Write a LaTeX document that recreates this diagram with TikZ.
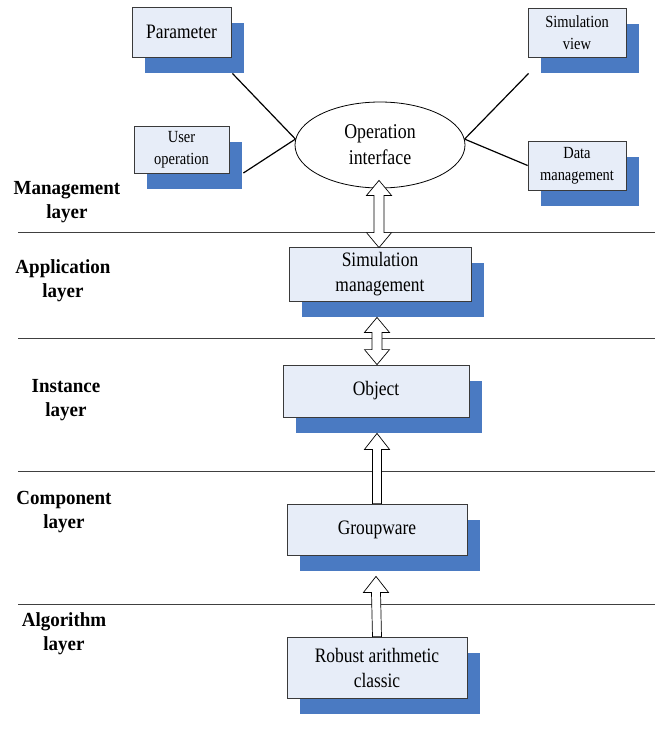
\documentclass[tikz,border=0pt]{standalone}
\usepackage{fontspec}
\setmainfont{Liberation Serif}[FakeStretch=0.85]
\newfontfamily\labelfont{Liberation Serif}[FakeStretch=0.95]
\usetikzlibrary{shapes.geometric,shadows,calc}

% hollow block arrows, drawn between two named points
\newcommand\fatup[2]{%
  \draw[fatarrow] ($(#1)+(-4.5,0)$) -- ($(#2)+(-4.5,16)$) -- ($(#2)+(-12.5,16)$) -- (#2)
    -- ($(#2)+(12.5,16)$) -- ($(#2)+(4.5,16)$) -- ($(#1)+(4.5,0)$) -- cycle;}
\newcommand\fatboth[2]{%
  \draw[fatarrow] (#1) -- ($(#1)+(12.5,15)$) -- ($(#1)+(5,15)$) -- ($(#2)+(5,-15)$)
    -- ($(#2)+(12.5,-15)$) -- (#2) -- ($(#2)+(-12.5,-15)$) -- ($(#2)+(-5,-15)$)
    -- ($(#1)+(-5,15)$) -- ($(#1)+(-12.5,15)$) -- cycle;}

\begin{document}
\begin{tikzpicture}[x=1pt,y=-1pt,
  box/.style={draw=boxline,fill=boxfill,line width=0.8pt,align=center,inner sep=0pt,
    general shadow={fill=shadowblue,shadow xshift=12.5pt,shadow yshift=-16pt}},
  bigbox/.style={box,font=\fontsize{20.5}{25}\selectfont},
  smallbox/.style={box,font=\fontsize{17}{22}\selectfont},
  layerlabel/.style={align=center,font=\labelfont\fontsize{20}{24}\selectfont\bfseries},
  link/.style={black,line width=1.2pt},
  fatarrow/.style={draw=black,fill=white,line width=0.7pt,line join=miter}]
\definecolor{boxline}{HTML}{3A3A3A}
\definecolor{boxfill}{HTML}{E7EDF8}
\definecolor{shadowblue}{HTML}{4A7AC2}
\definecolor{layerline}{HTML}{404040}
\useasboundingbox (0,0) rectangle (661,734);
% layer separators
\foreach \yy in {232,338,471,604}
  \draw[layerline,line width=0.9pt] (18,\yy) -- (655,\yy);
% layer names
\node[layerlabel] (lmanage) at (67,202) {Management\\layer};
\node[layerlabel] (lapp) at (63,281) {Application\\layer};
\node[layerlabel] (linst) at (66,400) {Instance\\layer};
\node[layerlabel] (lcomp) at (64,512.5) {Component\\layer};
\node[layerlabel] (lalgo) at (64,634) {Algorithm\\layer};
% operation interface and its satellites
\node[draw=black,fill=white,ellipse,line width=0.8pt,minimum width=170pt,minimum height=86pt,
  inner sep=0pt,align=center,font=\fontsize{21}{26}\selectfont] (opif) at (380,145)
  {Operation\\interface};
\node[bigbox,minimum width=99pt,minimum height=50pt] (param) at (181.5,32) {Parameter};
\node[smallbox,minimum width=95pt,minimum height=47pt] (uop) at (181.5,149.5) {User\\operation};
\node[smallbox,minimum width=98pt,minimum height=49pt] (simv) at (577,32.5) {Simulation\\view};
\node[smallbox,minimum width=98pt,minimum height=49pt] (dmg) at (577,165.5) {Data\\management};
\coordinate (paramend) at ($(param.south east)+(1,16)$);
\coordinate (uopend) at ($(uop.east)+(14,23.5)$);
\coordinate (simvend) at ($(simv.south west)+(1,16)$);
\draw[link] (paramend) -- (opif.176);
\draw[link] (uopend) -- (opif.176);
\draw[link] (simvend) -- (opif.4);
\draw[link] (dmg.west) -- (opif.4);
% layer boxes
\node[bigbox,minimum width=182pt,minimum height=54pt] (simm) at (380,274) {Simulation\\management};
\node[bigbox,minimum width=186pt,minimum height=52pt] (obj) at (376,391) {Object};
\node[bigbox,minimum width=180pt,minimum height=51pt] (grp) at (377,529.5) {Groupware};
\node[bigbox,minimum width=180pt,minimum height=61pt] (rob) at (377,667.5) {Robust arithmetic\\classic};
% block arrows
\coordinate (optip) at ($(opif.south)+(-1,-8)$);
\coordinate (simmtip) at ($(simm.north)+(-1,1)$);
\coordinate (simmout) at ($(simm.south)+(-3,16)$);
\coordinate (objtop) at ($(obj.north)+(1,0)$);
\coordinate (objtip) at ($(obj.south)+(1,16)$);
\coordinate (grptip) at ($(grp.south)+(-1,21)$);
\fatboth{optip}{simmtip}
\fatboth{simmout}{objtop}
\fatup{grp.north}{objtip}
\fatup{rob.north}{grptip}
\end{tikzpicture}
\end{document}
